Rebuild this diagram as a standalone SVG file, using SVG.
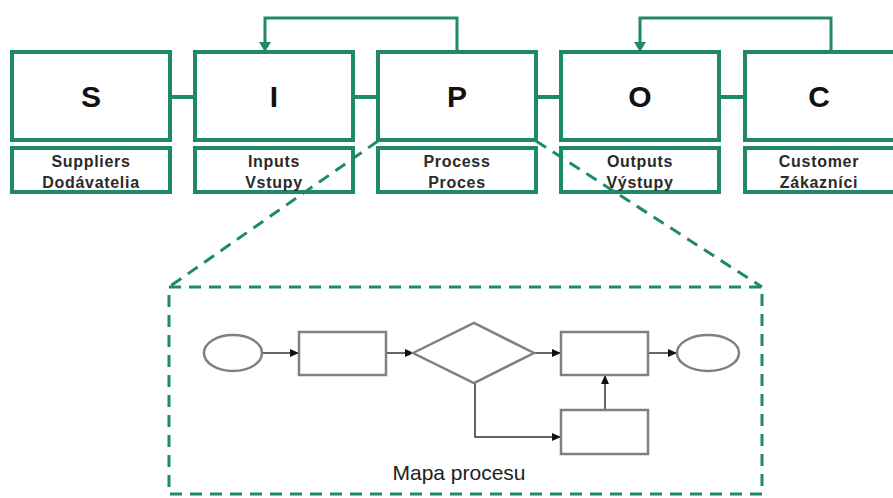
<svg xmlns="http://www.w3.org/2000/svg" width="893" height="498" viewBox="0 0 893 498">
  <defs>
    <marker id="arrBlack" markerWidth="9" markerHeight="9" refX="8" refY="4.5" orient="auto" markerUnits="userSpaceOnUse">
      <path d="M0,0.5 L9,4.5 L0,8.5 Z" fill="#111"/>
    </marker>
    <style>
      .box { fill: #fff; stroke: #1e8a6a; stroke-width: 4; }
      .lbl { fill: #fff; stroke: #1e8a6a; stroke-width: 4; }
      .link { stroke: #1e8a6a; stroke-width: 4; fill: none; }
      .fb { stroke: #1e8a6a; stroke-width: 3; fill: none; }
      .head { fill: #1e8a6a; }
      .dash { stroke: #1e8a6a; stroke-width: 3; fill: none; stroke-dasharray: 12 8; }
      .big { font-family: "Liberation Sans", Arial, sans-serif; font-weight: bold; font-size: 30px; fill: #111; text-anchor: middle; }
      .small { font-family: "Liberation Sans", Arial, sans-serif; font-weight: bold; font-size: 16px; fill: #2a2a2a; text-anchor: middle; letter-spacing: 0.7px; }
      .shape { fill: #fff; stroke: #808080; stroke-width: 2.5; }
      .flow { stroke: #333; stroke-width: 1.5; fill: none; }
      .cap { font-family: "Liberation Sans", Arial, sans-serif; font-size: 21px; fill: #222; text-anchor: middle; }
    </style>
  </defs>

  <rect width="893" height="498" fill="#fff"/>

  <!-- links between SIPOC stages and feedback loops -->
  <g id="connectors">
    <line class="link" x1="171" y1="97" x2="195" y2="97"/>
    <line class="link" x1="354" y1="97" x2="378" y2="97"/>
    <line class="link" x1="537" y1="97" x2="561" y2="97"/>
    <line class="link" x1="720" y1="97" x2="745" y2="97"/>
    <path class="fb" d="M457,52 V18 H265 V44"/>
    <path class="head" d="M259,42 L271,42 L265,52 Z"/>
    <path class="fb" d="M831,52 V18 H640 V44"/>
    <path class="head" d="M634,42 L646,42 L640,52 Z"/>
  </g>

  <g id="stage-s">
    <rect class="box" x="12" y="52" width="158" height="88"/>
    <text class="big" x="91" y="107">S</text>
    <rect class="lbl" x="12" y="148" width="158" height="44"/>
    <text class="small" x="91" y="167">Suppliers</text>
    <text class="small" x="91" y="188">Dodávatelia</text>
  </g>

  <g id="stage-i">
    <rect class="box" x="195" y="52" width="158" height="88"/>
    <text class="big" x="274" y="107">I</text>
    <rect class="lbl" x="195" y="148" width="158" height="44"/>
    <text class="small" x="274" y="167">Inputs</text>
    <text class="small" x="274" y="188">Vstupy</text>
  </g>

  <g id="stage-p">
    <rect class="box" x="378" y="52" width="158" height="88"/>
    <text class="big" x="457" y="107">P</text>
    <rect class="lbl" x="378" y="148" width="158" height="44"/>
    <text class="small" x="457" y="167">Process</text>
    <text class="small" x="457" y="188">Proces</text>
  </g>

  <g id="stage-o">
    <rect class="box" x="561" y="52" width="158" height="88"/>
    <text class="big" x="640" y="107">O</text>
    <rect class="lbl" x="561" y="148" width="158" height="44"/>
    <text class="small" x="640" y="167">Outputs</text>
    <text class="small" x="640" y="188">Výstupy</text>
  </g>

  <g id="stage-c">
    <rect class="box" x="745" y="52" width="158" height="88"/>
    <text class="big" x="819" y="107">C</text>
    <rect class="lbl" x="745" y="148" width="158" height="44"/>
    <text class="small" x="819" y="167">Customer</text>
    <text class="small" x="819" y="188">Zákazníci</text>
  </g>

  <!-- process map detail -->
  <g id="process-map">
    <rect class="dash" x="169" y="287" width="593" height="207"/>
    <g id="map-flows">
      <line class="flow" x1="262" y1="353" x2="298" y2="353" marker-end="url(#arrBlack)"/>
      <line class="flow" x1="387" y1="353" x2="413" y2="353" marker-end="url(#arrBlack)"/>
      <line class="flow" x1="534" y1="353" x2="560" y2="353" marker-end="url(#arrBlack)"/>
      <line class="flow" x1="649" y1="353" x2="676" y2="353" marker-end="url(#arrBlack)"/>
      <path class="flow" d="M475,383 V437 H560" marker-end="url(#arrBlack)"/>
      <line class="flow" x1="605" y1="410" x2="605" y2="376" marker-end="url(#arrBlack)"/>
    </g>
    <ellipse id="map-start" class="shape" cx="233" cy="353" rx="29" ry="18"/>
    <rect id="map-step1" class="shape" x="299" y="332" width="87" height="43"/>
    <polygon id="map-decision" class="shape" points="413,353 474,323 534,353 474,383"/>
    <rect id="map-step2" class="shape" x="561" y="332" width="87" height="43"/>
    <rect id="map-step3" class="shape" x="561" y="410" width="87" height="44"/>
    <ellipse id="map-end" class="shape" cx="708" cy="353" rx="31" ry="18"/>
    <text class="cap" x="459" y="480">Mapa procesu</text>
  </g>

  <!-- zoom lines from Process into the process map, drawn over the labels -->
  <g id="zoom-lines">
    <line class="dash" x1="378" y1="141" x2="169" y2="287"/>
    <line class="dash" x1="536" y1="141" x2="762" y2="287"/>
  </g>
</svg>
